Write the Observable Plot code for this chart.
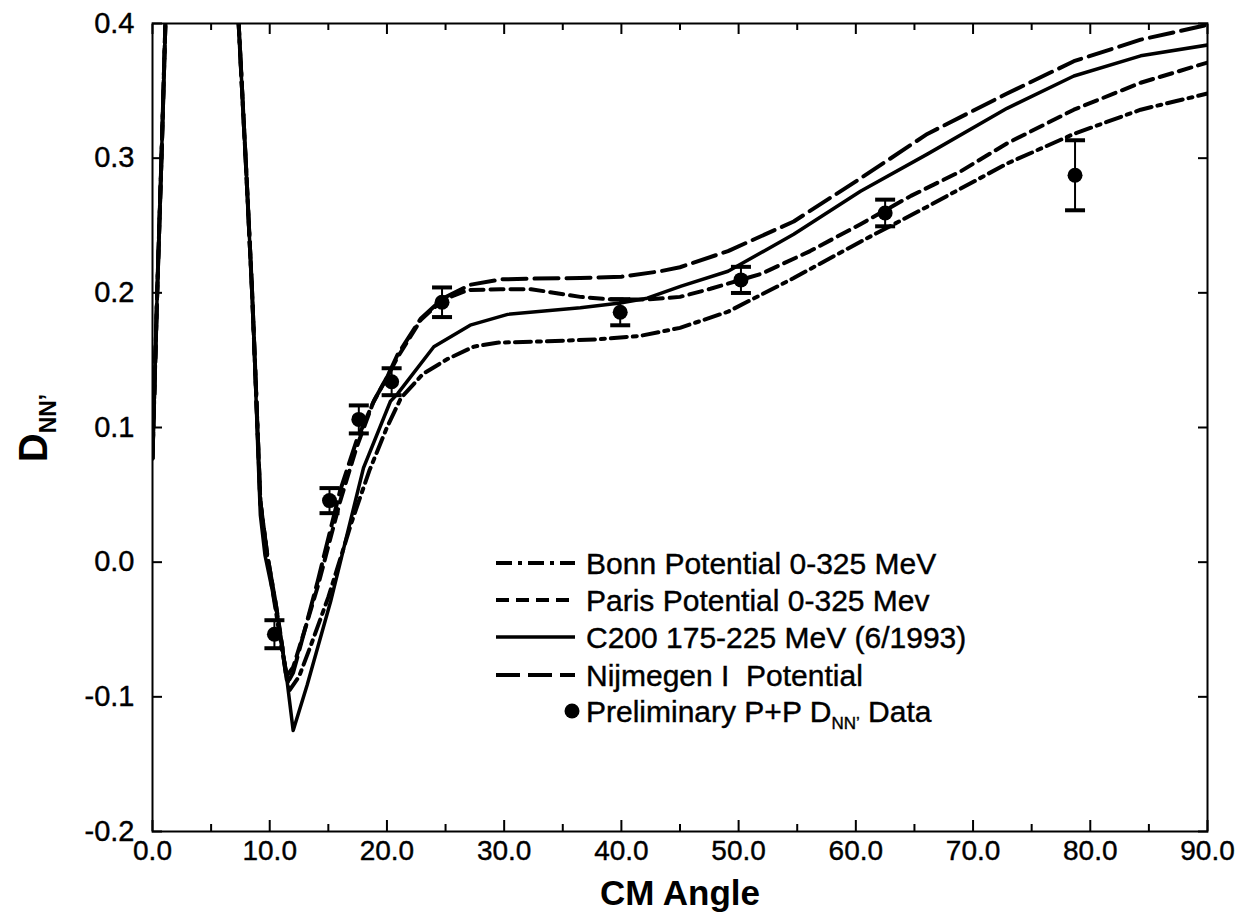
<!DOCTYPE html>
<html><head><meta charset="utf-8">
<script src="https://cdn.jsdelivr.net/npm/d3@7"></script>
<script src="https://cdn.jsdelivr.net/npm/@observablehq/plot@0.6"></script>
<style>
body{margin:0;background:#fff;}
#chart{width:1241px;height:913px;position:relative;}
</style>
</head><body><div id="chart"></div>
<script>
// ---- tick values ----
const xTicksMajor = [0, 10, 20, 30, 40, 50, 60, 70, 80, 90];
const xTicksMinor = [5, 15, 25, 35, 45, 55, 65, 75, 85];
const yTicks = [-0.2, -0.1, 0, 0.1, 0.2, 0.3, 0.4];

// ---- theory curves (CM angle in degrees, D_NN') ----
const c200Angle = [0, 0.4, 0.8, 1.1, 1.4, 7.0, 7.35, 8.0, 8.5, 8.8, 9.0, 9.2, 9.6, 10.2, 10.7, 11.35, 12.0, 13.2, 15.2, 18.0, 20.3, 20.9, 24.0, 27.1, 30.3, 36.5, 39.9, 42.2, 45.1, 49.1, 54.7, 60.4, 66.1, 72.9, 78.6, 84.3, 90];
const c200Value = [0.077, 0.2, 0.31, 0.4, 0.5, 0.47, 0.4, 0.29, 0.2, 0.13, 0.08, 0.035, 0.005, -0.02, -0.042, -0.079, -0.125, -0.091, -0.029, 0.07, 0.1195, 0.125, 0.160, 0.176, 0.184, 0.189, 0.1925, 0.196, 0.205, 0.216, 0.2435, 0.2754, 0.303, 0.337, 0.361, 0.376, 0.384];

const nijAngle = [0, 0.4, 0.8, 1.1, 1.4, 7.0, 7.35, 8.0, 8.5, 8.8, 9.0, 9.2, 9.8, 10.5, 11.0, 11.5, 12.0, 13.0, 14.1, 16.0, 17.4, 18.9, 20.0, 20.9, 22.9, 24.8, 27.1, 29.7, 32.0, 36.5, 40.0, 43.3, 45.0, 49.1, 54.7, 60.4, 66.1, 72.9, 78.6, 84.3, 90];
const nijValue = [0.077, 0.2, 0.31, 0.4, 0.5, 0.47, 0.4, 0.29, 0.2, 0.135, 0.09, 0.045, 0.005, -0.03, -0.06, -0.09, -0.082, -0.05, -0.014, 0.053, 0.09, 0.12, 0.137, 0.154, 0.181, 0.196, 0.206, 0.210, 0.2105, 0.211, 0.212, 0.216, 0.219, 0.231, 0.253, 0.285, 0.318, 0.348, 0.372, 0.388, 0.399];

const parisAngle = [0, 0.4, 0.8, 1.1, 1.4, 7.0, 7.35, 8.0, 8.5, 8.8, 9.0, 9.2, 9.8, 10.5, 11.0, 11.4, 12.0, 13.0, 14.1, 16.0, 17.4, 18.8, 20.9, 22.9, 24.8, 26.9, 29.7, 32.3, 36.5, 39.3, 42.2, 45.0, 47.6, 51.9, 56.1, 60.4, 64.7, 68.9, 72.9, 78.6, 84.3, 90];
const parisValue = [0.077, 0.2, 0.31, 0.4, 0.5, 0.47, 0.4, 0.29, 0.2, 0.135, 0.09, 0.045, 0.005, -0.03, -0.058, -0.085, -0.078, -0.05, -0.018, 0.045, 0.085, 0.118, 0.152, 0.18, 0.195, 0.202, 0.2027, 0.2027, 0.197, 0.195, 0.195, 0.197, 0.203, 0.214, 0.231, 0.251, 0.272, 0.290, 0.311, 0.336, 0.356, 0.371];

const bonnAngle = [0, 0.4, 0.8, 1.1, 1.4, 7.0, 7.35, 8.0, 8.5, 8.8, 9.0, 9.2, 9.8, 10.5, 11.0, 11.7, 12.5, 13.5, 15.0, 17.0, 18.5, 20.0, 21.2, 23.1, 25.2, 27.4, 29.4, 33.7, 38.0, 41.6, 45.0, 49.1, 54.7, 60.4, 66.1, 72.9, 78.6, 84.3, 90];
const bonnValue = [0.077, 0.2, 0.31, 0.4, 0.5, 0.47, 0.4, 0.29, 0.2, 0.135, 0.09, 0.045, 0.003, -0.035, -0.063, -0.095, -0.085, -0.062, -0.026, 0.03, 0.068, 0.1, 0.122, 0.14, 0.151, 0.160, 0.163, 0.164, 0.1655, 0.168, 0.174, 0.186, 0.211, 0.238, 0.264, 0.296, 0.318, 0.336, 0.348];

// ---- preliminary data ----
const dataAngle = [10.4, 15.1, 17.6, 20.4, 24.7, 39.9, 50.2, 62.5, 78.7];
const dataValue = [-0.0535, 0.0457, 0.106, 0.134, 0.193, 0.1856, 0.2096, 0.2593, 0.2873];
const dataError = [0.0104, 0.0093, 0.0104, 0.010, 0.011, 0.0097, 0.0097, 0.0099, 0.026];

const seriesNames = ["Bonn Potential 0-325 MeV", "Paris Potential 0-325 Mev", "C200 175-225 MeV (6/1993)", "Nijmegen I  Potential"];

// ---- build tables ----
const toRows = (a, v) => a.map((x, i) => ({x, y: v[i]}));
const bonn = toRows(bonnAngle, bonnValue);
const paris = toRows(parisAngle, parisValue);
const c200 = toRows(c200Angle, c200Value);
const nij = toRows(nijAngle, nijValue);
const pts = dataAngle.map((x, i) => ({x, y: dataValue[i], lo: dataValue[i] - dataError[i], hi: dataValue[i] + dataError[i]}));

const styles = {
  bonn: {dash: "16,6,4,6", width: 4},
  paris: {dash: "13,7", width: 4},
  c200: {dash: null, width: 3.5},
  nij: {dash: "24,8", width: 4}
};

const capSymbol = {draw(context, size) { const r = Math.sqrt(size / Math.PI); context.moveTo(-r, 0); context.lineTo(r, 0); }};

const FONT = "'Liberation Sans', Arial, Helvetica, sans-serif";

const plot = Plot.plot({
  width: 1241, height: 913,
  marginTop: 23, marginRight: 34, marginBottom: 82, marginLeft: 152,
  style: {fontFamily: FONT, background: "#fff", color: "#000"},
  x: {domain: [0, 90]},
  y: {domain: [-0.2, 0.4]},
  marks: [
    // ticks (inward)
    Plot.axisX({anchor: "bottom", ticks: xTicksMinor, tickSize: -7, fill: "none", strokeWidth: 2, label: null}),
    Plot.axisX({anchor: "bottom", ticks: xTicksMajor, tickSize: -11, fill: "none", strokeWidth: 2, label: null}),
    Plot.axisX({anchor: "top", ticks: xTicksMinor, tickSize: -6, fill: "none", strokeWidth: 2, label: null}),
    Plot.axisX({anchor: "top", ticks: xTicksMajor, tickSize: -10, fill: "none", strokeWidth: 2, label: null}),
    Plot.axisY({anchor: "left", ticks: yTicks, tickSize: -10, fill: "none", strokeWidth: 2, label: null}),
    Plot.axisY({anchor: "right", ticks: yTicks, tickSize: -10, fill: "none", strokeWidth: 2, label: null}),
    // tick labels
    Plot.axisX({anchor: "bottom", ticks: xTicksMajor, tickSize: 0, tickPadding: 9, tickFormat: d => d.toFixed(1), fontSize: 28, textStroke: "#000", textStrokeWidth: 0.4, label: null}),
    Plot.axisY({anchor: "left", ticks: yTicks, tickSize: 0, tickPadding: 18, tickFormat: d => d.toFixed(1), fontSize: 29, textStroke: "#000", textStrokeWidth: 0.4, label: null}),
    // curves
    Plot.line(bonn, {x: "x", y: "y", stroke: "#000", strokeWidth: styles.bonn.width, strokeDasharray: styles.bonn.dash, clip: true}),
    Plot.line(paris, {x: "x", y: "y", stroke: "#000", strokeWidth: styles.paris.width, strokeDasharray: styles.paris.dash, clip: true}),
    Plot.line(nij, {x: "x", y: "y", stroke: "#000", strokeWidth: styles.nij.width, strokeDasharray: styles.nij.dash, clip: true}),
    Plot.line(c200, {x: "x", y: "y", stroke: "#000", strokeWidth: styles.c200.width, clip: true}),
    // data
    Plot.ruleX(pts, {x: "x", y1: "lo", y2: "hi", stroke: "#000", strokeWidth: 2}),
    Plot.dot(pts, {x: "x", y: "lo", symbol: capSymbol, r: 10, stroke: "#000", strokeWidth: 4, fill: "none"}),
    Plot.dot(pts, {x: "x", y: "hi", symbol: capSymbol, r: 10, stroke: "#000", strokeWidth: 4, fill: "none"}),
    Plot.dot(pts, {x: "x", y: "y", r: 7.5, fill: "#000", stroke: "none"}),
    Plot.frame({stroke: "#000", strokeWidth: 2})
  ]
});
document.getElementById("chart").appendChild(plot);

// ---- titles and legend ----
const svg = d3.select(plot);
svg.append("text")
  .attr("x", 680).attr("y", 905)
  .attr("text-anchor", "middle")
  .style("font", `bold 35px ${FONT}`)
  .text("CM Angle");

const yl = svg.append("text")
  .attr("transform", "translate(47,428) rotate(-90)")
  .attr("text-anchor", "middle")
  .style("font", `bold 40px ${FONT}`);
yl.append("tspan").text("D");
yl.append("tspan").attr("dy", 9).style("font-size", "23px").text("NN’");

const lg = svg.append("g").attr("text-anchor", "start");
const rowY = [563, 600, 637, 675, 711];
const dashes = [styles.bonn, styles.paris, styles.c200, styles.nij];
const legendFont = `30px ${FONT}`;
seriesNames.forEach((name, i) => {
  lg.append("line")
    .attr("x1", 496).attr("x2", 575).attr("y1", rowY[i]).attr("y2", rowY[i])
    .attr("stroke", "#000").attr("stroke-width", dashes[i].width)
    .attr("stroke-dasharray", dashes[i].dash);
  lg.append("text")
    .attr("x", 586).attr("y", rowY[i]).attr("dy", "0.35em")
    .attr("text-anchor", "start")
    .attr("stroke", "#000").attr("stroke-width", 0.4)
    .style("font", legendFont)
    .text(name);
});
lg.append("circle").attr("cx", 572).attr("cy", rowY[4]).attr("r", 7.5).attr("fill", "#000");
const lt = lg.append("text").attr("x", 586).attr("y", rowY[4]).attr("dy", "0.35em")
  .attr("text-anchor", "start").attr("stroke", "#000").attr("stroke-width", 0.4).style("font", legendFont);
lt.append("tspan").text("Preliminary P+P D");
lt.append("tspan").attr("dy", 7).style("font-size", "17px").text("NN’");
lt.append("tspan").attr("dy", -7).text(" Data");
</script>
</body></html>
